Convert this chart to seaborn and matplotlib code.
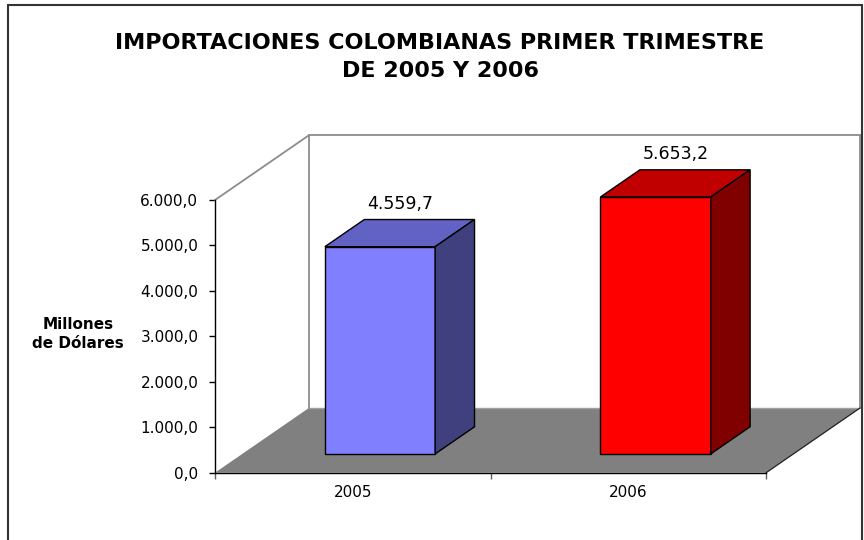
import numpy as np
import pandas as pd
import matplotlib
matplotlib.use("Agg")
import matplotlib.pyplot as plt
from matplotlib.patches import Polygon, Rectangle
import seaborn as sns

# --- data ---
years = ["2005", "2006"]
values = [4559.7, 5653.2]
front_colors = ["#8080FF", "#FF0000"]
top_colors = ["#6262C4", "#C00000"]
side_colors = ["#40407E", "#800000"]
y_ticks = [0, 1000, 2000, 3000, 4000, 5000, 6000]


def fmt_es(v, decimals=1):
    # spanish number format: 4.559,7
    s = f"{v:,.{decimals}f}"
    return s.replace(",", "X").replace(".", ",").replace("X", ".")


sns.set_style("white")
plt.rcParams['font.family'] = ['DejaVu Sans']
plt.rcParams['text.color'] = 'black'
plt.rcParams['xtick.color'] = 'black'
plt.rcParams['ytick.color'] = 'black'
plt.rcParams['axes.labelcolor'] = 'black'

fig = plt.figure(figsize=(8.64, 5.4), dpi=100)

# depth of the 3-D box, in data units (x: categories, y: value)
DX = 0.3406
DY = 1423.5
f0, f1 = 0.29, 0.71   # front / back of the bars inside the depth
YMAX = 6000

ax = fig.add_axes([215 / 864, 1 - 472.7 / 540, 645 / 864, 337.4 / 540])
ax.patch.set_alpha(0)

df = pd.DataFrame({"year": years, "value": values})
sns.barplot(data=df, x="year", y="value", hue="year", palette=front_colors,
            saturation=1, width=0.4, edgecolor="black", linewidth=1,
            errorbar=None, legend=False, ax=ax, zorder=3)

# --- floor and walls ---
floor = Polygon([(-0.5, 0), (1.5, 0), (1.5 + DX, DY), (-0.5 + DX, DY)],
                closed=True, fc="#808080", ec="none", zorder=1)
ax.add_patch(floor)
wall = dict(color="#8c8c8c", lw=1.3, zorder=1.5, clip_on=False)
ax.plot([-0.5, -0.5 + DX], [YMAX, YMAX + DY], **wall)
ax.plot([-0.5 + DX, -0.5 + DX], [DY, YMAX + DY], **wall)
ax.plot([-0.5 + DX, 1.5 + DX], [YMAX + DY, YMAX + DY], **wall)
ax.plot([1.5 + DX, 1.5 + DX], [DY, YMAX + DY], **wall)
ax.plot([-0.5 + DX, 1.5 + DX], [DY, DY], color="#a0a0a0", lw=1, zorder=1.2)
ax.plot([1.5, 1.5 + DX], [0, DY], color="#202020", lw=0.9, zorder=1.6, clip_on=False)

# --- shift bars into the box and add top / side faces ---
for p in list(ax.patches):
    if p is floor:
        continue
    i = int(round(p.get_x() + p.get_width() / 2))
    h = p.get_height()
    p.set_x(p.get_x() + f0 * DX)
    p.set_y(f0 * DY)
    xl = p.get_x()
    xr = xl + p.get_width()
    b = f0 * DY
    t = b + h
    dx = (f1 - f0) * DX
    dy = (f1 - f0) * DY
    top = Polygon([(xl, t), (xr, t), (xr + dx, t + dy), (xl + dx, t + dy)],
                  closed=True, fc=top_colors[i], ec="black", lw=1, zorder=3)
    side = Polygon([(xr, b), (xr + dx, b + dy), (xr + dx, t + dy), (xr, t)],
                   closed=True, fc=side_colors[i], ec="black", lw=1, zorder=3)
    ax.add_patch(top)
    ax.add_patch(side)
    ax.text(i + 0.5 * (f0 + f1) * DX, t + dy + 140, fmt_es(values[i]),
            ha="center", va="bottom", fontsize=12.5, zorder=4)

ax.set_xlim(-0.5, 1.5 + DX)
ax.set_ylim(0, YMAX + DY)

for s in ["top", "right"]:
    ax.spines[s].set_visible(False)
ax.spines["left"].set_bounds(0, YMAX)
ax.spines["bottom"].set_bounds(-0.5, 1.5)
for s in ["left", "bottom"]:
    ax.spines[s].set_color("black")
    ax.spines[s].set_linewidth(1)
    ax.spines[s].set_zorder(2)

ax.set_yticks(y_ticks)
ax.set_yticklabels([fmt_es(v) for v in y_ticks])
ax.tick_params(axis="y", left=True, length=4, width=1, pad=8, labelsize=11,
               color="black")

ax.set_xticks([-0.5, 0.5, 1.5])
ax.set_xticklabels(["", "", ""])
ax.set_xticks([0, 1], minor=True)
ax.set_xticklabels(years, minor=True)
ax.tick_params(axis="x", which="major", bottom=True, length=4, width=1, color="#606060")
ax.tick_params(axis="x", which="minor", bottom=True, length=0, pad=9, labelsize=11)
ax.set_xlabel("")
ax.set_ylabel("")

fig.text(78 / 864, 1 - 334 / 540, "Millones\nde Dólares", ha="center", va="center",
         fontsize=11, fontweight="bold", linespacing=1.35, multialignment="center")

fig.text(440 / 864, 1 - 57 / 540,
         "IMPORTACIONES COLOMBIANAS PRIMER TRIMESTRE\nDE 2005 Y 2006",
         ha="center", va="center", fontsize=16, fontweight="bold", linespacing=1.55)

# outer chart frame
fig.add_artist(Rectangle((8 / 864, -0.1), (862 - 8) / 864, 1.1 - 5 / 540,
                         transform=fig.transFigure, fill=False, ec="#333333", lw=1.5))

fig.savefig("out.png", dpi=100)
